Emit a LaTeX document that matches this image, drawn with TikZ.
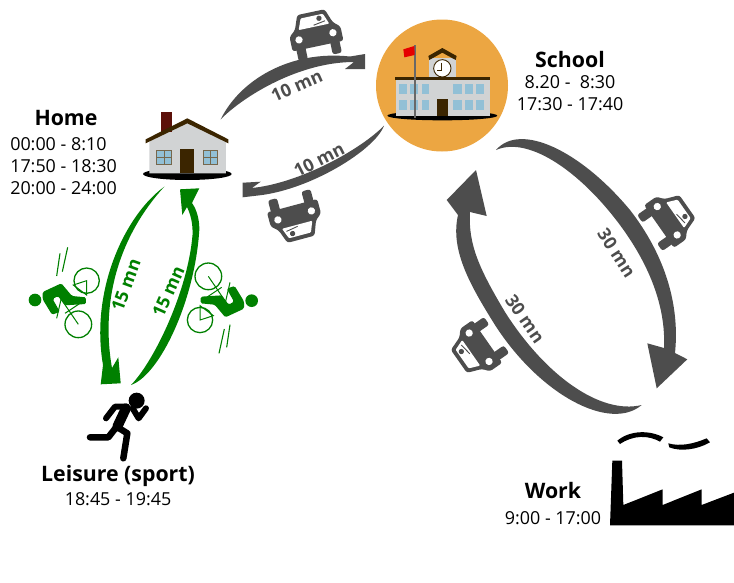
\documentclass[tikz,border=0pt]{standalone}
\usepackage{fontspec}
\setmainfont{Open Sans}
\definecolor{gy}{HTML}{4D4D4D}
\definecolor{gr}{HTML}{008000}
\definecolor{orangec}{HTML}{ECA642}
\definecolor{wall}{HTML}{D1D3D4}
\definecolor{brownd}{HTML}{3B2500}
\definecolor{glass}{HTML}{92C0D6}
\definecolor{chimney}{HTML}{5C1009}
\tikzset{
  gyarrow/.style={fill=gy,draw=none},
  grarrow/.style={fill=gr,draw=none},
  title/.style={font=\fontsize{21.3}{24}\selectfont\bfseries,inner sep=0pt},
  times/.style={font=\fontsize{17.9}{22}\selectfont,inner sep=0pt,align=center},
  lab/.style={font=\fontsize{17.8}{20}\selectfont\bfseries,inner sep=0pt},
  car/.pic={
    \begin{scope}[x=.3333pt,y=-.3333pt]
      \fill[gy,rounded corners=2.5pt] (-42,-70)--(42,-70)--(58,-27)--(78,-10)--(78,34)--(-78,34)--(-78,-10)--(-58,-27)--cycle;
      \fill[gy,rounded corners=2.5pt] (38,25) rectangle (66,68);
      \fill[gy,rounded corners=2.5pt] (-66,25) rectangle (-38,68);
      \fill[white,rounded corners=1pt] (-34,-58)--(34,-58)--(47,-25)--(-47,-25)--cycle;
      \fill[gy] (20,-47) circle (8);
      \draw[gy,line width=.9pt] (0,-30)--(36,-36);
      \fill[white] (52,4) circle (11);
      \fill[white] (-52,4) circle (11);
    \end{scope}
  },
  cyclist/.pic={
    \begin{scope}[x=.3333pt,y=-.3333pt]
      \draw[gr,line width=1.3pt] (200,152) circle (38);
      \draw[gr,line width=1.3pt] (175,283) circle (40);
      \draw[gr,line width=1.1pt] (120,70)--(110,138);
      \draw[gr,line width=1.1pt] (143,52)--(127,125);
      \draw[gr,line width=1pt] (200,152)--(160,165)--(200,195)--cycle;
      \draw[gr,line width=1pt] (115,195)--(175,283);
      \draw[gr,line width=1pt] (110,265)--(125,200);
      \draw[gr,line width=1pt] (135,250)--(195,210);
      \fill[gr] (45,210) circle (19);
      \fill[gr,rounded corners=1.5pt] (68,186)--(124,160)--(156,198)--(198,202)--(198,222)--(135,226)--(114,198)--(98,207)--(120,246)--(96,254)--(68,208)--cycle;
    \end{scope}
  }
}
\begin{document}
\begin{tikzpicture}[x=1pt,y=-1pt]
\useasboundingbox (0,0) rectangle (734,582);

% named end points of the connectors
\coordinate (hsTail) at (220.7,119.3);
\coordinate (shTail) at (384,125.7);
\coordinate (hlTail) at (164.3,186.7);
\coordinate (lhTail) at (131,385);
\coordinate (swTail) at (496,150);
\coordinate (wsTail) at (641.7,405);

% school
\node[circle,fill=orangec,minimum size=132pt,inner sep=0pt] (schoolDisc) at (442,85.5) {};
\begin{scope}[shift={(370,20)},x=.3333pt,y=-.3333pt]
  \fill[black] (217,287) ellipse (165 and 14);
  \fill[wall] (78,178) rectangle (360,287);
  \fill[wall] (178,115) rectangle (257,180);
  \fill[brownd] (75,172) rectangle (360,180);
  \fill[brownd] (175,108)--(217,84)--(260,108)--(257,120)--(217,98)--(178,120)--cycle;
  \draw[brownd,fill=white,line width=.9pt] (217,145) circle (26);
  \draw[brownd,line width=.8pt] (214,128)--(214,150)--(200,150);
  \foreach \xa/\xb in {88/112,120/145,155/178,250/275,285/308,318/343}{
    \fill[glass] (\xa,192) rectangle (\xb,222);
    \fill[glass] (\xa,240) rectangle (\xb,270);
  }
  \fill[brownd] (200,237) rectangle (235,287);
  \fill[gy!85] (132,75) rectangle (139,294);
  \fill[red!90!black] (100,88)--(133,78)--(134,105)--(103,112)--cycle;
\end{scope}

% home
\begin{scope}[shift={(130,0)},x=.3333pt,y=-.3333pt]
  \fill[black] (172,522) ellipse (133 and 18);
  \fill[wall] (58,425)--(172,362)--(288,425)--(288,520)--(58,520)--cycle;
  \fill[chimney] (92,337) rectangle (125,395);
  \fill[brownd] (47,418)--(172,355)--(295,418)--(295,430)--(172,370)--(47,430)--cycle;
  \fill[brownd] (150,448) rectangle (193,520);
  \foreach \xa in {80,220}{
    \draw[brownd!70,fill=glass,line width=.8pt] (\xa,451) rectangle ++(43,42);
    \draw[brownd!70,line width=.6pt] (\xa+21.5,451)--++(0,42) (\xa,472)--++(43,0);
  }
\end{scope}

% runner
\begin{scope}[shift={(20,230)},x=.3333pt,y=-.3333pt]
  \fill[black] (350,512) circle (24);
  \draw[black,line width=6pt,line cap=round,line join=round] (338,535)--(356,565)--(378,535);
  \draw[black,line width=6pt,line cap=round,line join=round] (320,530)--(285,530)--(258,565);
  \draw[black,line width=10pt,line cap=round] (318,535)--(292,590);
  \draw[black,line width=6.5pt,line cap=round,line join=round] (290,590)--(265,622)--(210,622);
  \draw[black,line width=6.5pt,line cap=round,line join=round] (290,590)--(322,610)--(310,685);
\end{scope}

% factory
\begin{scope}[shift={(600,420)},x=.3333pt,y=-.3333pt]
  \fill[black] (30,316)--(37,122)--(66,122)--(70,255)--(188,208)--(188,255)--(305,208)--(305,255)--(402,218)--(402,316)--cycle;
  \fill[black] (52,62) .. controls (90,30) and (150,30) .. (190,52)--(180,65) .. controls (145,45) and (100,45) .. (60,72)--cycle;
  \fill[black] (205,70) .. controls (240,80) and (280,72) .. (320,55)--(330,67) .. controls (290,90) and (240,95) .. (208,82)--cycle;
\end{scope}

% connectors
\fill[gyarrow] (hsTail) .. controls (240,80) and (290,50) .. (350,56.5) -- (365,54) -- (365,69) -- (345,69) -- (354,62) .. controls (300,62) and (245,95) .. (hsTail) -- cycle;
\fill[gyarrow] (shTail) .. controls (375,150) and (310,190) .. (258,195.5) -- (242.7,197.3) -- (242.7,182.7) -- (260.7,181.7) -- (252,188) .. controls (300,183) and (360,150) .. (shTail) -- cycle;
\fill[grarrow] (hlTail) .. controls (125,215) and (90,290) .. (103,365) -- (100.7,384.3) -- (120.7,383.3) -- (118.3,357.3) -- (112,368) .. controls (100,300) and (120,235) .. (hlTail) -- cycle;
\fill[grarrow] (lhTail) .. controls (160,375) and (195,300) .. (199.3,230) .. controls (199.5,220) and (197,210) .. (192,203) -- (199.3,188.3) -- (180,189.3) -- (182.3,215) -- (187,207) .. controls (191,215) and (193,225) .. (192.5,235) .. controls (188,290) and (155,360) .. (lhTail) -- cycle;
\fill[gyarrow] (swTail) .. controls (520,122) and (580,150) .. (630,210) .. controls (665,255) and (680,305) .. (675,353) -- (687.3,359.3) -- (656.7,388.3) -- (647.3,343.3) -- (664,348) .. controls (666,305) and (648,265) .. (625,232) .. controls (585,175) and (530,135) .. (swTail) -- cycle;
\fill[gyarrow] (wsTail) .. controls (610,432) and (540,395) .. (495,325) .. controls (470,285) and (450,250) .. (458,215) -- (446.7,200) -- (476,170) -- (486.7,216) -- (470,212) .. controls (468,245) and (480,270) .. (505,312) .. controls (545,375) and (600,415) .. (wsTail) -- cycle;

% vehicles
\pic at (315.7,35) [rotate=12] {car};
\pic at (295,216.7) [rotate=195] {car};
\pic at (668.3,220) [rotate=-55] {car};
\pic at (478,348) [rotate=125] {car};
\pic at (20,230) {cyclist};
\pic at (266.67,370.67) [rotate=180] {cyclist};

% labels
\node[lab,text=gy,rotate=24] (l1) at (296.7,86) {10 mn};
\node[lab,text=gy,rotate=27] (l2) at (319,160) {10 mn};
\node[lab,text=gr,rotate=70] (l3) at (126,285) {15 mn};
\node[lab,text=gr,rotate=66] (l4) at (168.3,291.7) {15 mn};
\node[lab,text=gy,rotate=-57] (l5) at (616.7,252.7) {30 mn};
\node[lab,text=gy,rotate=-55] (l6) at (525,319) {30 mn};

\node[title] (home) at (66,117.5) {Home};
\node[times,align=left] (homeT) at (63.5,166) {00:00 - 8:10\\17:50 - 18:30\\20:00 - 24:00};
\node[title] (school) at (570,59.5) {School};
\node[times] (schoolT) at (570,93) {8.20 -\ \ 8:30\\17:30 - 17:40};
\node[title] (leisure) at (118,476) {Leisure (sport)};
\node[times] (leisureT) at (118,499.5) {18:45 - 19:45};
\node[title] (work) at (553,491) {Work};
\node[times] (workT) at (553,518.5) {9:00 - 17:00};
\end{tikzpicture}
\end{document}
